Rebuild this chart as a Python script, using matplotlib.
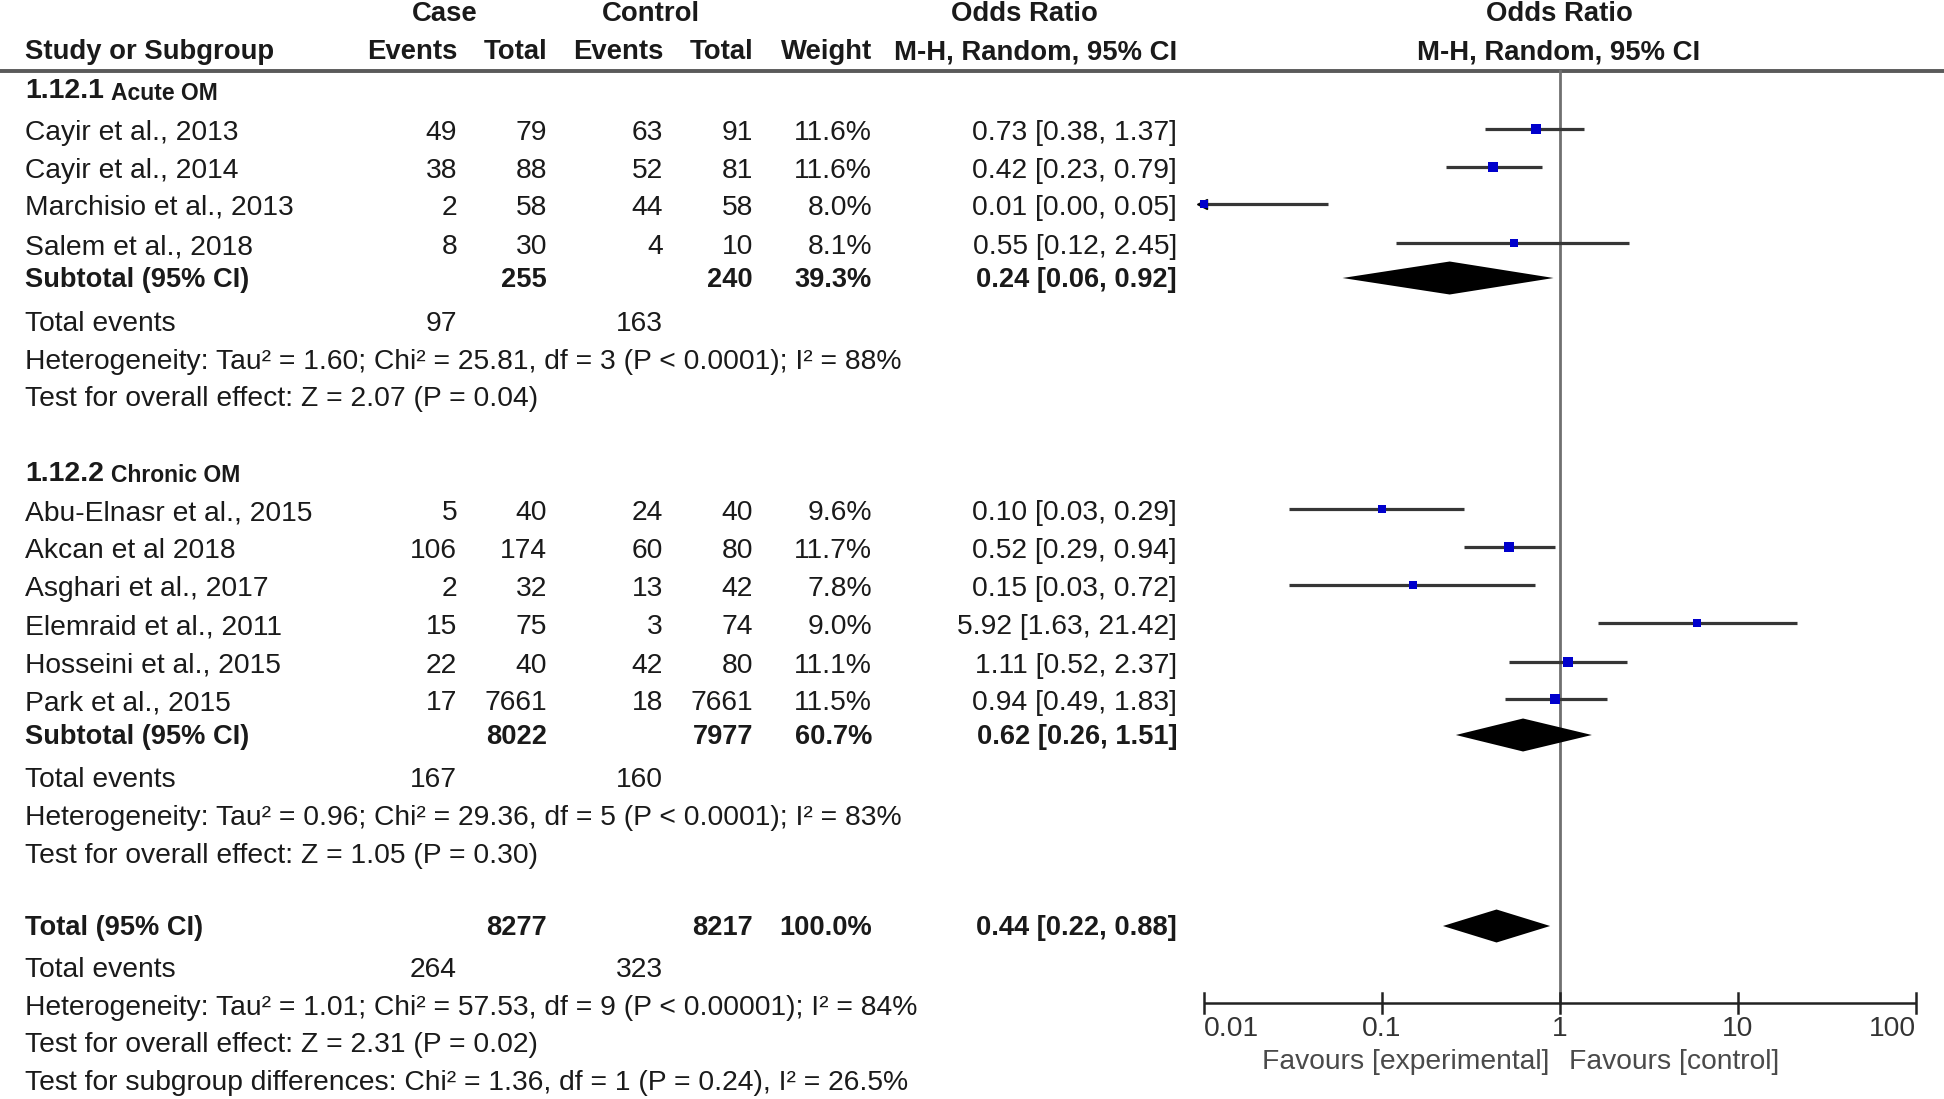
import matplotlib
matplotlib.use("Agg")
import matplotlib.pyplot as plt
import numpy as np

plt.rcParams['font.family'] = ['Liberation Sans', 'DejaVu Sans']

# ---------------- data ----------------
studies1 = ["Cayir et al., 2013", "Cayir et al., 2014", "Marchisio et al., 2013", "Salem et al., 2018"]
case_events1 = [49, 38, 2, 8]
case_total1 = [79, 88, 58, 30]
ctrl_events1 = [63, 52, 44, 4]
ctrl_total1 = [91, 81, 58, 10]
weight1 = [11.6, 11.6, 8.0, 8.1]
or1 = [0.73, 0.42, 0.01, 0.55]
lo1 = [0.38, 0.23, 0.00, 0.12]
hi1 = [1.37, 0.79, 0.05, 2.45]
sub1 = dict(case_total=255, ctrl_total=240, weight=39.3, or_=0.24, lo=0.06, hi=0.92,
            case_events=97, ctrl_events=163)
het1 = "Heterogeneity: Tau\u00b2 = 1.60; Chi\u00b2 = 25.81, df = 3 (P < 0.0001); I\u00b2 = 88%"
test1 = "Test for overall effect: Z = 2.07 (P = 0.04)"

studies2 = ["Abu-Elnasr et al., 2015", "Akcan et al 2018", "Asghari et al., 2017",
            "Elemraid et al., 2011", "Hosseini et al., 2015", "Park et al., 2015"]
case_events2 = [5, 106, 2, 15, 22, 17]
case_total2 = [40, 174, 32, 75, 40, 7661]
ctrl_events2 = [24, 60, 13, 3, 42, 18]
ctrl_total2 = [40, 80, 42, 74, 80, 7661]
weight2 = [9.6, 11.7, 7.8, 9.0, 11.1, 11.5]
or2 = [0.10, 0.52, 0.15, 5.92, 1.11, 0.94]
lo2 = [0.03, 0.29, 0.03, 1.63, 0.52, 0.49]
hi2 = [0.29, 0.94, 0.72, 21.42, 2.37, 1.83]
sub2 = dict(case_total=8022, ctrl_total=7977, weight=60.7, or_=0.62, lo=0.26, hi=1.51,
            case_events=167, ctrl_events=160)
het2 = "Heterogeneity: Tau\u00b2 = 0.96; Chi\u00b2 = 29.36, df = 5 (P < 0.0001); I\u00b2 = 83%"
test2 = "Test for overall effect: Z = 1.05 (P = 0.30)"

total = dict(case_total=8277, ctrl_total=8217, weight=100.0, or_=0.44, lo=0.22, hi=0.88,
             case_events=264, ctrl_events=323)
het_tot = "Heterogeneity: Tau\u00b2 = 1.01; Chi\u00b2 = 57.53, df = 9 (P < 0.00001); I\u00b2 = 84%"
test_tot = "Test for overall effect: Z = 2.31 (P = 0.02)"
test_sub = "Test for subgroup differences: Chi\u00b2 = 1.36, df = 1 (P = 0.24), I\u00b2 = 26.5%"

axis_ticks = [0.01, 0.1, 1, 10, 100]
axis_labels = ["0.01", "0.1", "1", "10", "100"]

# ---------------- layout ----------------
W, H = 1944, 1099
fig = plt.figure(figsize=(W / 100, H / 100), dpi=100)
ax = fig.add_axes([0, 0, 1, 1])
ax.set_xlim(0, W)
ax.set_ylim(H, 0)
ax.axis('off')

XL, XR = 1204, 1916
axf = fig.add_axes([XL / W, 0, (XR - XL) / W, 1])
axf.set_xscale('log')
axf.set_xlim(0.01, 100)
axf.set_ylim(H, 0)
axf.axis('off')

FS = 20.3
FB = 19.6
TC = '#1a1a1a'
x_name = 25
x_ce, x_ct, x_te, x_tt, x_w, x_or = 457, 547, 663, 753, 872, 1177

def txt(x, y, s, ha='left', bold=False, size=None, color=TC):
    if size is None:
        size = FB if bold else FS
    ax.text(x, y, s, ha=ha, va='center', fontsize=size, color=color,
            fontweight='bold' if bold else 'normal')

# headers
HB = 19.8
txt(445, 14, "Case", ha='center', bold=True, size=HB)
txt(651, 14, "Control", ha='center', bold=True, size=HB)
txt(1024, 14, "Odds Ratio", ha='center', bold=True, size=HB)
txt(1559, 14, "Odds Ratio", ha='center', bold=True, size=HB)
y_h2 = 52
txt(x_name, y_h2, "Study or Subgroup", bold=True, size=HB)
for xx, s in [(x_ce, "Events"), (x_ct, "Total"), (x_te, "Events"), (x_tt, "Total"), (x_w, "Weight"),
              (x_or, "M-H, Random, 95% CI")]:
    txt(xx, y_h2, s, ha='right', bold=True, size=HB)
txt(1559, y_h2, "M-H, Random, 95% CI", ha='center', bold=True, size=HB)
ax.plot([0, W], [71, 71], color='#5a5a5a', lw=2.8, solid_capstyle='butt')

def fmt_ci(o, l, h):
    return f"{o:.2f} [{l:.2f}, {h:.2f}]"

def side_px(w):
    return 10.5 * w / 11.6

def study_rows(names, ce, ct, te, tt, w, o, l, h, ys):
    for i, y in enumerate(ys):
        txt(x_name, y, names[i])
        txt(x_ce, y, str(ce[i]), ha='right')
        txt(x_ct, y, str(ct[i]), ha='right')
        txt(x_te, y, str(te[i]), ha='right')
        txt(x_tt, y, str(tt[i]), ha='right')
        txt(x_w, y, f"{w[i]:.1f}%", ha='right')
        txt(x_or, y, fmt_ci(o[i], l[i], h[i]), ha='right')
        yf = y - 4
        left = max(l[i], 0.01)
        axf.plot([left, h[i]], [yf, yf], color='#363636', lw=2.3, solid_capstyle='butt',
                 clip_on=False, zorder=3)
        if l[i] < 0.01:
            axf.plot([0.0098], [yf], marker='<', color='black', ms=7, clip_on=False, zorder=4)
        s = side_px(w[i]) * 0.72
        axf.plot([o[i]], [yf], marker='s', color='#0000cc', ms=s, mew=0, clip_on=False, zorder=5)

def summary_row(label, d, y):
    txt(x_name, y, label, bold=True)
    txt(x_ct, y, str(d['case_total']), ha='right', bold=True)
    txt(x_tt, y, str(d['ctrl_total']), ha='right', bold=True)
    txt(x_w, y, f"{d['weight']:.1f}%", ha='right', bold=True)
    txt(x_or, y, fmt_ci(d['or_'], d['lo'], d['hi']), ha='right', bold=True)
    yf = y - 2
    hh = 16.5
    axf.fill([d['lo'], d['or_'], d['hi'], d['or_']], [yf, yf - hh, yf, yf + hh],
             color='black', lw=0, clip_on=False, zorder=4)

def events_row(d, y):
    txt(x_name, y, "Total events")
    txt(x_ce, y, str(d['case_events']), ha='right')
    txt(x_te, y, str(d['ctrl_events']), ha='right')

# group 1
txt(x_name, 91, "1.12.1", bold=True, size=20.5)
ax.text(111, 93, "Acute OM", ha='left', va='center', fontsize=16.5, fontweight='bold', color=TC)
ys1 = [133, 171, 208, 247]
study_rows(studies1, case_events1, case_total1, ctrl_events1, ctrl_total1, weight1, or1, lo1, hi1, ys1)
summary_row("Subtotal (95% CI)", sub1, 280)
events_row(sub1, 324)
txt(x_name, 362, het1)
txt(x_name, 399, test1)

# group 2
txt(x_name, 474, "1.12.2", bold=True, size=20.5)
ax.text(111, 476, "Chronic OM", ha='left', va='center', fontsize=16.5, fontweight='bold', color=TC)
ys2 = [513, 551, 589, 627, 666, 703]
study_rows(studies2, case_events2, case_total2, ctrl_events2, ctrl_total2, weight2, or2, lo2, hi2, ys2)
summary_row("Subtotal (95% CI)", sub2, 737)
events_row(sub2, 780)
txt(x_name, 818, het2)
txt(x_name, 856, test2)

# overall
summary_row("Total (95% CI)", total, 928)
events_row(total, 970)
txt(x_name, 1008, het_tot)
txt(x_name, 1045, test_tot)
txt(x_name, 1083, test_sub)

# null line and axis
y_ax = 1003
axf.plot([1, 1], [71, y_ax], color='#707070', lw=2.0, clip_on=False, zorder=2)
axf.plot([0.01, 100], [y_ax, y_ax], color='#222222', lw=1.8, clip_on=False, solid_capstyle='butt')
for i, t in enumerate(axis_ticks):
    axf.plot([t, t], [y_ax - 10, y_ax + 10], color='#222222', lw=1.8, clip_on=False)
    ha = 'left' if i == 0 else ('right' if i == len(axis_ticks) - 1 else 'center')
    axf.text(t, 1029, axis_labels[i], ha=ha, va='center', fontsize=FS, color='#333333')
axf.text(0.87, 1062, "Favours [experimental]", ha='right', va='center', fontsize=FS, color='#4a4a4a')
axf.text(1.13, 1062, "Favours [control]", ha='left', va='center', fontsize=FS, color='#4a4a4a')

fig.savefig("out.png", dpi=100, facecolor='white')
